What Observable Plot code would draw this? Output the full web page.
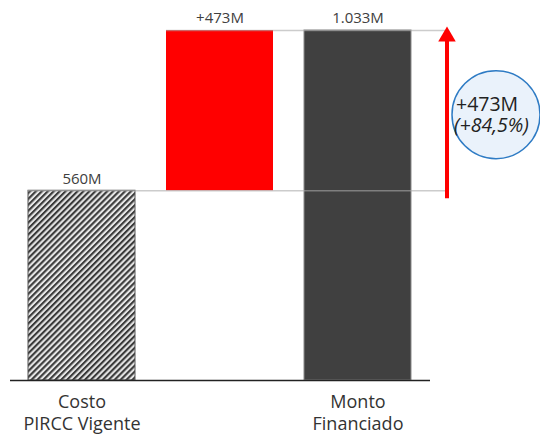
<!DOCTYPE html>
<html><head><meta charset="utf-8">
<script src="https://cdn.jsdelivr.net/npm/d3@7"></script>
<script src="https://cdn.jsdelivr.net/npm/@observablehq/plot@0.6"></script>
<style>html,body{margin:0;padding:0;background:#fff} svg{display:block}</style>
</head><body><div id="chart"></div>
<script>
const categories = ["costo", "aumento", "monto", "delta"];
const categoryLabels = ["Costo\nPIRCC Vigente", "", "Monto\nFinanciado", ""];
const baseValue = 560;
const increaseValue = 473;
const totalValue = 1033;
const valueLabels = ["560M", "+473M", "1.033M"];
const deltaLabel = "+473M";
const pctLabel = "(+84,5%)";

const bars = [
  {cat: "costo", y1: 0, y2: baseValue, label: valueLabels[0]},
  {cat: "aumento", y1: baseValue, y2: baseValue + increaseValue, label: valueLabels[1]},
  {cat: "monto", y1: 0, y2: totalValue, label: valueLabels[2]}
];
const connectors = [
  {y: baseValue, from: "costo", to: "monto"},
  {y: totalValue, from: "aumento", to: "monto"}
];
const axisLabels = categories.map((c, i) => ({cat: c, label: categoryLabels[i]}));
const mid = (baseValue + totalValue) / 2;
const font = "'Open Sans', sans-serif";

const chart = Plot.plot({
  width: 540, height: 434,
  marginTop: 30, marginBottom: 54, marginLeft: 0, marginRight: 0,
  x: {domain: categories, range: [26, 551], paddingInner: 0.223, paddingOuter: 0, axis: null},
  y: {domain: [0, totalValue], axis: null},
  style: {fontFamily: font, color: "#333", background: "white", overflow: "visible"},
  marks: [
    Plot.barY([bars[0]], {x: "cat", y1: "y1", y2: "y2", fill: "url(#hatch)", stroke: "#555", strokeWidth: 1}),
    Plot.barY([bars[1]], {x: "cat", y1: "y1", y2: "y2", fill: "#ff0000"}),
    Plot.barY([bars[2]], {x: "cat", y1: "y1", y2: "y2", fill: "#404040", stroke: "#8a8a8a", strokeWidth: 1}),
    Plot.ruleY(connectors, {y: "y", x1: "from", x2: "to", stroke: "#aaa", strokeOpacity: 0.6, strokeWidth: 1.5, insetRight: -35}),
    Plot.ruleY([0], {stroke: "#222", strokeWidth: 1.5, insetLeft: 10, insetRight: 110}),
    Plot.text(bars, {x: "cat", y: "y2", text: "label", dy: -12, fontSize: 15, fill: "#404040"}),
    Plot.text(axisLabels, {x: "cat", y: 0, text: "label", lineAnchor: "top", dy: 12, fontSize: 18, lineHeight: 1.22, fill: "#333"}),
    Plot.dot([{cat: "delta"}], {x: "cat", y: mid, r: 44, fill: "#eaf2fb", stroke: "#2e7bc4", strokeWidth: 1.5, dy: 4}),
    Plot.ruleX([{cat: "delta"}], {x: "cat", y1: baseValue, y2: totalValue, stroke: "#ff0000", strokeWidth: 4, insetTop: 8, dx: -49}),
    Plot.dot([{cat: "delta"}], {x: "cat", y: totalValue, symbol: "triangle", r: 6.5, fill: "#ff0000", dx: -49, dy: 6}),
    Plot.text([deltaLabel], {x: () => "delta", y: mid, text: d => d, textAnchor: "start", dx: -40, dy: -6, fontSize: 19.5, fill: "#222"}),
    Plot.text([pctLabel], {x: () => "delta", y: mid, text: d => d, textAnchor: "start", dx: -42, dy: 15, fontSize: 19.5, fontStyle: "italic", fill: "#222"})
  ]
});
d3.select(chart).insert("defs", ":first-child").html(
  `<pattern id="hatch" width="4.2" height="4.2" patternUnits="userSpaceOnUse" patternTransform="rotate(45)">
     <rect width="4.2" height="4.2" fill="#e6e6e6"/><rect width="2.1" height="4.2" fill="#3a3a3a"/>
   </pattern>`);
document.getElementById("chart").appendChild(chart);
</script>
</body></html>
